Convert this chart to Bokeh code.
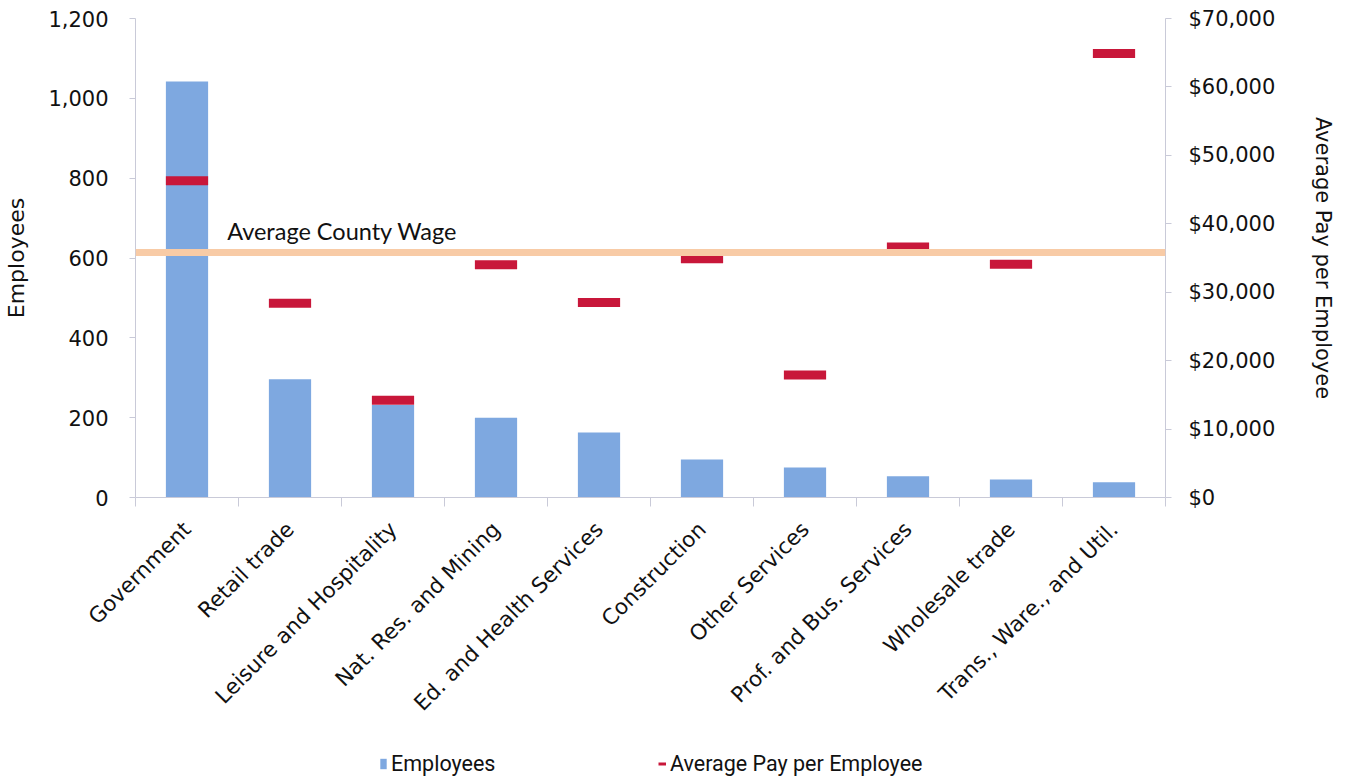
import math
from bokeh.plotting import figure
from bokeh.layouts import column
from bokeh.models import (Range1d, LinearAxis, FixedTicker, NumeralTickFormatter,
                          Span, Label, Legend, LegendItem, ColumnDataSource)
from bokeh.embed import file_html
from bokeh.resources import INLINE

categories = ["Government", "Retail trade", "Leisure and Hospitality", "Nat. Res. and Mining",
              "Ed. and Health Services", "Construction", "Other Services", "Prof. and Bus. Services",
              "Wholesale trade", "Trans., Ware., and Util."]
employees = [1042, 296, 232, 200, 163, 95, 75, 53, 45, 38]
avg_pay = [46300, 28400, 14200, 34000, 28500, 34900, 17900, 36600, 34100, 64900]
county_wage = 35800
left_ticks = [0, 200, 400, 600, 800, 1000, 1200]
right_ticks = [0, 10000, 20000, 30000, 40000, 50000, 60000, 70000]
legend_labels = ["Employees", "Average Pay per Employee"]
left_title = "Employees"
right_title = "Average Pay per Employee"

BAR = "#7EA8E0"
RED = "#C8173A"
PEACH = "#F8CBA6"
AXIS = "#C9CAD8"
FONT = "DejaVu Sans"
INK = "#111111"

n = len(categories)
centers = [i + 0.5 for i in range(n)]
bounds = list(range(n + 1))

p = figure(x_range=Range1d(0, n), y_range=Range1d(0, 1200), width=1338, height=750,
           output_backend="svg", toolbar_location=None, x_axis_location=None, y_axis_location=None,
           min_border_left=135, min_border_right=172, min_border_top=18, min_border_bottom=253)
p.extra_y_ranges = {"pay": Range1d(0, 70000)}
p.outline_line_color = None
p.xgrid.visible = False
p.ygrid.visible = False

src = ColumnDataSource(dict(x=centers, cat=categories, emp=employees, pay=avg_pay))

p.vbar(x="x", top="emp", width=0.41, source=src, fill_color=BAR, line_color=None)
p.rect(x="x", y="pay", width=0.41, height=9, height_units="screen", source=src,
       fill_color=RED, line_color=None, y_range_name="pay")

p.add_layout(Span(location=county_wage, dimension="width", y_range_name="pay",
                  line_color=PEACH, line_width=7))
p.add_layout(Label(x=0.89, y=county_wage, y_range_name="pay",
                   text="Average County Wage", text_font="Lato", text_font_size="23.5px",
                   text_color=INK, text_baseline="alphabetic", y_offset=22))

ly = LinearAxis(ticker=FixedTicker(ticks=left_ticks), formatter=NumeralTickFormatter(format="0,0"),
                axis_label=left_title)
ry = LinearAxis(y_range_name="pay", ticker=FixedTicker(ticks=right_ticks),
                formatter=NumeralTickFormatter(format="$0,0"), axis_label=right_title)
for ax, st, als, fs in ((ly, 21, 16, "22px"), (ry, 17, 33, "21px")):
    ax.axis_line_color = AXIS
    ax.major_tick_line_color = AXIS
    ax.major_tick_out = 6
    ax.major_tick_in = 0
    ax.minor_tick_line_color = None
    ax.major_label_standoff = st
    ax.major_label_text_font = FONT
    ax.major_label_text_font_size = "21px"
    ax.major_label_text_color = INK
    ax.axis_label_text_font = FONT
    ax.axis_label_text_font_size = fs
    ax.axis_label_text_font_style = "normal"
    ax.axis_label_text_color = INK
    ax.axis_label_standoff = als
p.add_layout(ly, "left")
p.add_layout(ry, "right")

# category labels at centres, boundary ticks as minor ticks
cx = LinearAxis(ticker=FixedTicker(ticks=centers, minor_ticks=bounds),
                major_label_overrides={c: lab for c, lab in zip(centers, categories)},
                major_label_orientation=math.pi / 4, axis_line_color=AXIS,
                major_tick_line_color=None, major_tick_out=0, major_tick_in=0,
                minor_tick_line_color=AXIS, minor_tick_out=9, minor_tick_in=0,
                major_label_standoff=19,
                major_label_text_font=FONT, major_label_text_font_size="21.5px",
                major_label_text_color=INK)
p.add_layout(cx, "below")

# legend strip
lf = figure(x_range=Range1d(0, 1), y_range=Range1d(0, 1), width=1338, height=26,
            output_backend="svg", toolbar_location=None, x_axis_location=None, y_axis_location=None,
            min_border=0, outline_line_color=None)
lf.xgrid.visible = False
lf.ygrid.visible = False
lb = lf.vbar(x=[0], top=[0], width=0.01, fill_color=BAR, line_color=None)
ll = lf.line(x=[0], y=[0], line_color=RED, line_width=3)
legend = Legend(items=[LegendItem(label=legend_labels[0], renderers=[lb]),
                       LegendItem(label=legend_labels[1], renderers=[ll])],
                orientation="horizontal", location=(244, 0), glyph_width=8, glyph_height=13,
                label_standoff=4, label_width=267, spacing=0, padding=0, margin=0,
                border_line_color=None, background_fill_alpha=0,
                label_text_font="Roboto", label_text_font_size="21.5px",
                label_text_color=INK)
lf.add_layout(legend, "center")

open("out.html", "w").write(file_html(column(p, lf, spacing=0), INLINE))
